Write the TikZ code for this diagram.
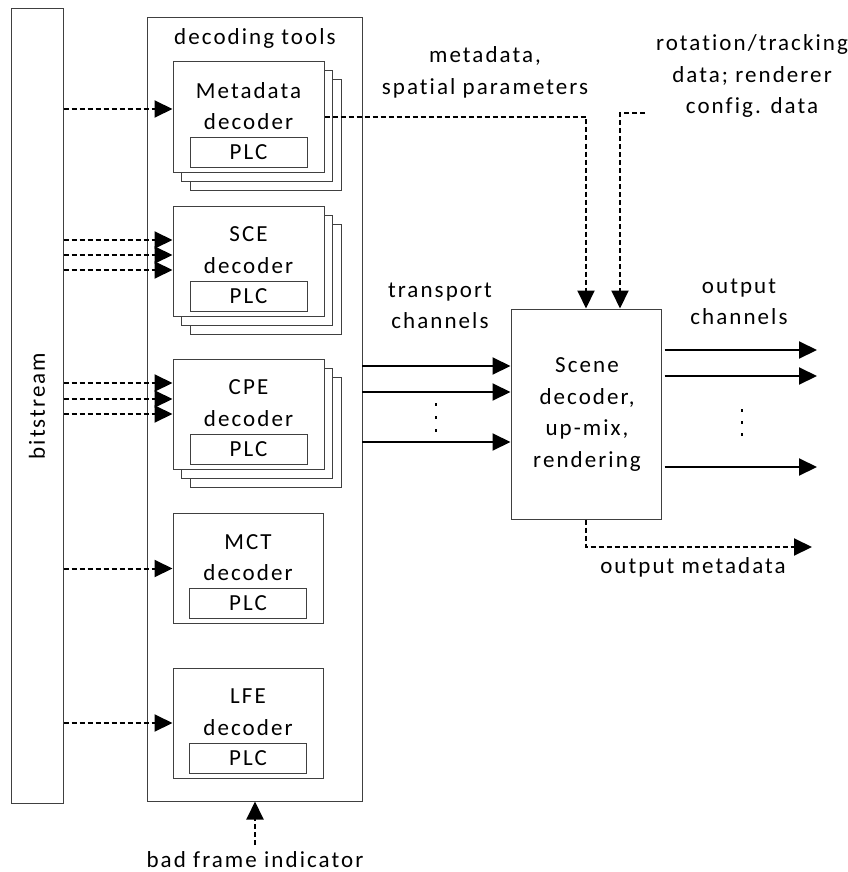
\documentclass[tikz,border=0pt]{standalone}
\usepackage{fontspec}
\setmainfont{Carlito}[LetterSpace=9,Ligatures=NoCommon]
\usetikzlibrary{arrows.meta,calc}
\tikzset{
  box/.style={draw=black!75, line width=1pt, fill=white, inner sep=0pt},
  txt/.style={font=\fontsize{23}{31.5}\selectfont, align=center, inner sep=0pt},
  solidarrow/.style={line width=2pt, -{Triangle[length=18pt,width=17pt]}},
  dotarrow/.style={line width=2pt, dash pattern=on 5pt off 3pt, -{Triangle[length=18pt,width=17pt]}},
}
\begin{document}
\begin{tikzpicture}[x=1pt,y=-1pt]
\useasboundingbox (0,0) rectangle (847,872);
% bitstream
\node[box, minimum width=52pt, minimum height=794pt] (bits) at (37,406) {};
\node[txt, rotate=90] (bitslbl) at (37,406) {bitstream};
% decoding tools
\node[box, minimum width=215pt, minimum height=783pt] (tools) at (254.5,409.5) {};
\node[txt] (toolslbl) at (255,38) {decoding tools};
% stacked decoders
\foreach \n/\cy/\la in {meta/117/Metadata, sce/261/SCE, cpe/414/CPE}{
  \node[box, minimum width=151pt, minimum height=110pt] (\n3) at (265.5,\cy+18) {};
  \node[box, minimum width=151pt, minimum height=110pt] (\n2) at (257,\cy+9) {};
  \node[box, minimum width=151pt, minimum height=110pt] (\n) at (248.5,\cy) {};
  \node[txt] (\n lbl) at (248.5,\cy-11) {\la\\decoder};
  \node[box, minimum width=117pt, minimum height=30pt] (\n plc) at (248.5,\cy+35) {};
  \node[txt] (\n plclbl) at (248.5,\cy+35) {PLC};
}
\foreach \n/\cy/\la in {mct/568.5/MCT, lfe/723/LFE}{
  \node[box, minimum width=150pt, minimum height=110pt] (\n) at (248,\cy) {};
  \node[txt] (\n lbl) at (248,\cy-11) {\la\\decoder};
  \node[box, minimum width=117pt, minimum height=30pt] (\n plc) at (248,\cy+35) {};
  \node[txt] (\n plclbl) at (248,\cy+35) {PLC};
}
% input arrows
\coordinate (mi) at ([yshift=8pt]meta.west);
\draw[dotarrow] (bits.east |- mi) -- (mi);
\foreach \s [count=\i] in {21,6,-9}{
  \coordinate (si\i) at ([yshift=\s pt]sce.west);
  \draw[dotarrow] (bits.east |- si\i) -- (si\i);
}
\foreach \s [count=\i] in {31,15,0}{
  \coordinate (ci\i) at ([yshift=\s pt]cpe.west);
  \draw[dotarrow] (bits.east |- ci\i) -- (ci\i);
}
\draw[dotarrow] (bits.east |- mct.west) -- (mct.west);
\draw[dotarrow] (bits.east |- lfe.west) -- (lfe.west);
% bad frame indicator
\node[txt] (bfi) at (255,860) {bad frame indicator};
\coordinate (bfis) at (255,845);
\draw[dotarrow] (bfis) -- (bfis |- tools.south);
% scene box
\node[box, minimum width=150pt, minimum height=210pt] (scene) at (586,414) {};
\node[txt] (scenelbl) at (587,414.5) {Scene\\decoder,\\up-mix,\\rendering};
% metadata path
\coordinate (mtop) at (586,117);
\draw[dotarrow] (meta.east) -- (mtop) -- (mtop |- scene.north);
\node[txt] (mdlbl) at (485,72.5) {metadata,\\spatial parameters};
% rotation path
\coordinate (rs) at (645,113);
\coordinate (rc) at (620,113);
\draw[dotarrow] (rs) -- (rc) -- (rc |- scene.north);
\node[txt] (rotlbl) at (752,76) {rotation/tracking\\data; renderer\\config. data};
% transport channels
\node[txt] (tclbl) at (440,306) {transport\\channels};
\foreach \yy [count=\i] in {366,392,442}{
  \coordinate (ti\i) at (362,\yy);
  \draw[solidarrow] (ti\i) -- (ti\i -| scene.west);
}
\foreach \yy in {404,417,430}{ \fill (435,\yy-1.5) rectangle (437,\yy+1.5); }
% output channels
\node[txt] (oclbl) at (739,302) {output\\channels};
\foreach \yy [count=\i] in {350,376,467}{
  \coordinate (to\i) at (817,\yy);
  \draw[solidarrow] ([xshift=3pt]scene.east |- to\i) -- (to\i);
}
\foreach \yy in {410,422,434}{ \fill (741,\yy-1.5) rectangle (743,\yy+1.5); }
% output metadata
\coordinate (omc) at (586,547);
\coordinate (ome) at (812,547);
\draw[dotarrow] (scene.south) -- (omc) -- (ome);
\node[txt] (omlbl) at (693,567) {output metadata};
\end{tikzpicture}
\end{document}
